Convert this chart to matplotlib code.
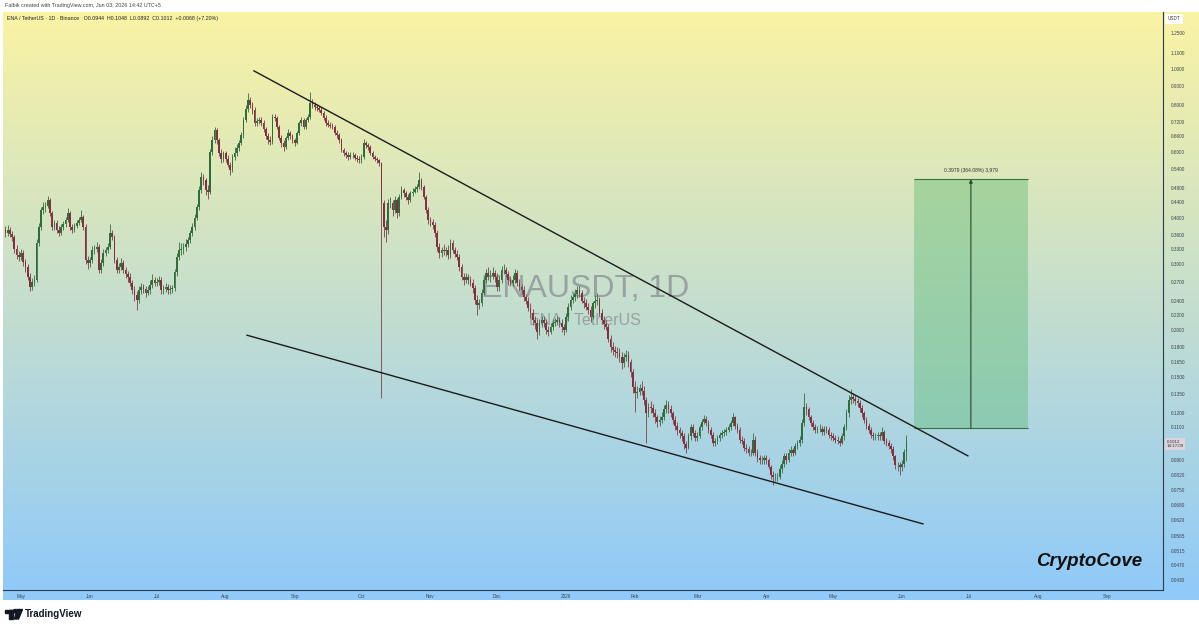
import numpy as np
import pandas as pd
import matplotlib
matplotlib.use('Agg')
import matplotlib.pyplot as plt
import matplotlib.dates as mdates
from matplotlib.patches import Rectangle, Circle, Polygon
from matplotlib.ticker import FixedLocator, FixedFormatter, NullLocator

plt.rcParams['font.family'] = ['Liberation Sans', 'DejaVu Sans']

# ENA / TetherUS, 1D, Binance - daily candles
end_date = '2026-06-03'
first_open = 0.370

closes = [
    0.365, 0.371, 0.362, 0.355, 0.330, 0.318, 0.315, 0.322, 0.305, 0.295,
    0.278, 0.261, 0.269, 0.273, 0.342, 0.378, 0.420, 0.427, 0.430, 0.446,
    0.412, 0.378, 0.387, 0.372, 0.365, 0.378, 0.385, 0.395, 0.412, 0.378,
    0.371, 0.380, 0.387, 0.395, 0.401, 0.378, 0.308, 0.303, 0.308, 0.328,
    0.330, 0.334, 0.290, 0.303, 0.322, 0.328, 0.334, 0.365, 0.355, 0.308,
    0.290, 0.296, 0.303, 0.290, 0.283, 0.278, 0.268, 0.256, 0.248, 0.241,
    0.256, 0.261, 0.258, 0.252, 0.256, 0.265, 0.273, 0.268, 0.270, 0.273,
    0.256, 0.258, 0.261, 0.256, 0.258, 0.259, 0.286, 0.315, 0.328, 0.330,
    0.334, 0.340, 0.349, 0.365, 0.378, 0.400, 0.427, 0.475, 0.514, 0.505,
    0.475, 0.470, 0.600, 0.645, 0.687, 0.646, 0.596, 0.575, 0.596, 0.575,
    0.555, 0.537, 0.582, 0.596, 0.615, 0.634, 0.665, 0.730, 0.780, 0.826,
    0.800, 0.777, 0.717, 0.725, 0.730, 0.717, 0.690, 0.660, 0.646, 0.638,
    0.744, 0.740, 0.700, 0.655, 0.634, 0.618, 0.655, 0.674, 0.660, 0.646,
    0.634, 0.674, 0.715, 0.730, 0.700, 0.730, 0.744, 0.811, 0.800, 0.791,
    0.785, 0.777, 0.763, 0.740, 0.717, 0.709, 0.705, 0.700, 0.674, 0.665,
    0.645, 0.607, 0.595, 0.589, 0.582, 0.589, 0.589, 0.578, 0.575, 0.571,
    0.582, 0.634, 0.625, 0.618, 0.596, 0.582, 0.575, 0.571, 0.560, 0.438,
    0.378, 0.370, 0.438, 0.438, 0.420, 0.446, 0.412, 0.455, 0.475, 0.466,
    0.455, 0.446, 0.466, 0.470, 0.478, 0.483, 0.505, 0.483, 0.455, 0.420,
    0.395, 0.390, 0.383, 0.365, 0.334, 0.322, 0.328, 0.325, 0.328, 0.318,
    0.342, 0.328, 0.320, 0.315, 0.295, 0.278, 0.273, 0.278, 0.273, 0.268,
    0.260, 0.241, 0.233, 0.236, 0.252, 0.273, 0.284, 0.278, 0.280, 0.284,
    0.278, 0.261, 0.273, 0.290, 0.290, 0.283, 0.273, 0.268, 0.273, 0.284,
    0.268, 0.261, 0.256, 0.245, 0.240, 0.230, 0.222, 0.213, 0.209, 0.198,
    0.209, 0.213, 0.209, 0.200, 0.198, 0.204, 0.209, 0.211, 0.213, 0.209,
    0.204, 0.200, 0.217, 0.231, 0.241, 0.245, 0.250, 0.256, 0.252, 0.240,
    0.236, 0.231, 0.227, 0.217, 0.236, 0.240, 0.241, 0.222, 0.213, 0.208,
    0.204, 0.190, 0.180, 0.177, 0.175, 0.174, 0.170, 0.163, 0.170, 0.172,
    0.165, 0.155, 0.141, 0.136, 0.137, 0.140, 0.138, 0.130, 0.120, 0.125,
    0.124, 0.120, 0.117, 0.114, 0.115, 0.117, 0.123, 0.126, 0.123, 0.120,
    0.115, 0.111, 0.108, 0.106, 0.104, 0.099, 0.097, 0.104, 0.110, 0.106,
    0.103, 0.104, 0.110, 0.114, 0.116, 0.113, 0.108, 0.105, 0.100, 0.101,
    0.103, 0.105, 0.106, 0.107, 0.108, 0.110, 0.113, 0.117, 0.111, 0.108,
    0.102, 0.101, 0.097, 0.096, 0.094, 0.094, 0.102, 0.094, 0.091, 0.090,
    0.090, 0.091, 0.090, 0.086, 0.082, 0.081, 0.081, 0.081, 0.085, 0.088,
    0.092, 0.090, 0.094, 0.0957, 0.094, 0.098, 0.100, 0.102, 0.113, 0.125,
    0.123, 0.117, 0.113, 0.110, 0.108, 0.109, 0.109, 0.107, 0.109, 0.108,
    0.105, 0.104, 0.103, 0.102, 0.101, 0.100, 0.104, 0.110, 0.120, 0.130,
    0.133, 0.131, 0.129, 0.128, 0.124, 0.120, 0.115, 0.111, 0.108, 0.105,
    0.104, 0.104, 0.105, 0.104, 0.107, 0.101, 0.100, 0.098, 0.096, 0.092,
    0.087, 0.087, 0.086, 0.088, 0.0944, 0.1012,
]

highs = [
    0.380, 0.382, 0.378, 0.368, 0.360, 0.338, 0.326, 0.330, 0.328, 0.310,
    0.300, 0.284, 0.276, 0.281, 0.350, 0.388, 0.428, 0.440, 0.442, 0.458,
    0.452, 0.418, 0.395, 0.394, 0.380, 0.384, 0.392, 0.402, 0.425, 0.418,
    0.386, 0.388, 0.394, 0.402, 0.420, 0.408, 0.384, 0.316, 0.314, 0.336,
    0.338, 0.345, 0.340, 0.310, 0.330, 0.335, 0.342, 0.385, 0.370, 0.360,
    0.314, 0.302, 0.312, 0.308, 0.296, 0.288, 0.284, 0.272, 0.262, 0.254,
    0.262, 0.268, 0.266, 0.262, 0.262, 0.272, 0.282, 0.278, 0.276, 0.280,
    0.277, 0.264, 0.268, 0.266, 0.264, 0.265, 0.292, 0.322, 0.345, 0.342,
    0.342, 0.350, 0.356, 0.372, 0.388, 0.410, 0.436, 0.485, 0.530, 0.525,
    0.512, 0.490, 0.610, 0.660, 0.700, 0.695, 0.655, 0.610, 0.605, 0.602,
    0.590, 0.565, 0.592, 0.620, 0.628, 0.645, 0.680, 0.742, 0.800, 0.860,
    0.840, 0.815, 0.790, 0.740, 0.745, 0.745, 0.728, 0.700, 0.672, 0.660,
    0.760, 0.758, 0.748, 0.708, 0.665, 0.645, 0.662, 0.690, 0.684, 0.668,
    0.655, 0.682, 0.725, 0.745, 0.738, 0.740, 0.760, 0.868, 0.830, 0.815,
    0.805, 0.798, 0.790, 0.772, 0.752, 0.728, 0.722, 0.716, 0.710, 0.685,
    0.675, 0.652, 0.615, 0.602, 0.598, 0.598, 0.600, 0.596, 0.588, 0.585,
    0.592, 0.650, 0.642, 0.632, 0.625, 0.602, 0.590, 0.582, 0.575, 0.565,
    0.445, 0.395, 0.448, 0.455, 0.445, 0.458, 0.452, 0.462, 0.485, 0.480,
    0.472, 0.462, 0.472, 0.480, 0.485, 0.492, 0.530, 0.512, 0.490, 0.460,
    0.428, 0.402, 0.398, 0.390, 0.372, 0.342, 0.335, 0.340, 0.334, 0.338,
    0.350, 0.348, 0.335, 0.328, 0.320, 0.300, 0.285, 0.284, 0.283, 0.280,
    0.274, 0.265, 0.248, 0.242, 0.258, 0.280, 0.292, 0.296, 0.290, 0.296,
    0.290, 0.284, 0.280, 0.298, 0.300, 0.296, 0.288, 0.280, 0.281, 0.292,
    0.290, 0.274, 0.266, 0.262, 0.250, 0.246, 0.236, 0.228, 0.218, 0.214,
    0.214, 0.219, 0.218, 0.214, 0.205, 0.209, 0.214, 0.216, 0.219, 0.217,
    0.214, 0.208, 0.222, 0.236, 0.248, 0.252, 0.258, 0.262, 0.262, 0.256,
    0.246, 0.242, 0.236, 0.232, 0.240, 0.248, 0.252, 0.246, 0.228, 0.218,
    0.213, 0.208, 0.194, 0.186, 0.182, 0.180, 0.179, 0.175, 0.174, 0.177,
    0.176, 0.168, 0.158, 0.146, 0.142, 0.144, 0.146, 0.142, 0.133, 0.128,
    0.129, 0.127, 0.123, 0.119, 0.118, 0.121, 0.126, 0.130, 0.129, 0.126,
    0.122, 0.118, 0.114, 0.110, 0.108, 0.106, 0.101, 0.106, 0.112, 0.112,
    0.108, 0.107, 0.112, 0.116, 0.119, 0.118, 0.115, 0.110, 0.107, 0.103,
    0.105, 0.107, 0.108, 0.109, 0.110, 0.112, 0.115, 0.120, 0.118, 0.113,
    0.110, 0.104, 0.103, 0.099, 0.098, 0.096, 0.106, 0.104, 0.096, 0.093,
    0.092, 0.093, 0.093, 0.091, 0.087, 0.084, 0.083, 0.083, 0.087, 0.090,
    0.094, 0.094, 0.096, 0.098, 0.097, 0.100, 0.102, 0.104, 0.116, 0.136,
    0.128, 0.125, 0.119, 0.115, 0.112, 0.111, 0.112, 0.111, 0.111, 0.111,
    0.110, 0.107, 0.106, 0.105, 0.104, 0.103, 0.106, 0.112, 0.123, 0.134,
    0.139, 0.136, 0.134, 0.132, 0.130, 0.126, 0.122, 0.117, 0.113, 0.110,
    0.107, 0.106, 0.107, 0.107, 0.110, 0.108, 0.103, 0.102, 0.100, 0.098,
    0.093, 0.089, 0.089, 0.090, 0.096, 0.1048,
]

lows = [
    0.355, 0.358, 0.355, 0.346, 0.322, 0.310, 0.306, 0.308, 0.298, 0.287,
    0.272, 0.254, 0.257, 0.263, 0.270, 0.336, 0.370, 0.410, 0.415, 0.425,
    0.405, 0.370, 0.372, 0.365, 0.358, 0.360, 0.372, 0.378, 0.390, 0.372,
    0.364, 0.366, 0.375, 0.382, 0.390, 0.372, 0.300, 0.292, 0.296, 0.302,
    0.320, 0.324, 0.284, 0.285, 0.298, 0.316, 0.322, 0.330, 0.348, 0.302,
    0.284, 0.284, 0.290, 0.284, 0.276, 0.270, 0.262, 0.250, 0.240, 0.226,
    0.236, 0.250, 0.252, 0.246, 0.248, 0.250, 0.260, 0.262, 0.262, 0.264,
    0.250, 0.250, 0.253, 0.250, 0.250, 0.252, 0.255, 0.280, 0.308, 0.318,
    0.320, 0.326, 0.334, 0.342, 0.358, 0.372, 0.394, 0.420, 0.466, 0.490,
    0.460, 0.448, 0.462, 0.590, 0.635, 0.630, 0.585, 0.560, 0.565, 0.565,
    0.545, 0.520, 0.530, 0.570, 0.585, 0.605, 0.625, 0.655, 0.720, 0.765,
    0.785, 0.760, 0.705, 0.705, 0.712, 0.705, 0.680, 0.650, 0.630, 0.625,
    0.630, 0.725, 0.690, 0.645, 0.620, 0.605, 0.610, 0.645, 0.650, 0.632,
    0.622, 0.628, 0.665, 0.705, 0.690, 0.692, 0.722, 0.735, 0.785, 0.775,
    0.770, 0.765, 0.752, 0.728, 0.705, 0.698, 0.695, 0.690, 0.664, 0.655,
    0.635, 0.598, 0.585, 0.578, 0.572, 0.575, 0.578, 0.570, 0.565, 0.560,
    0.562, 0.575, 0.615, 0.608, 0.588, 0.575, 0.566, 0.562, 0.550, 0.132,
    0.355, 0.345, 0.362, 0.425, 0.405, 0.412, 0.400, 0.405, 0.448, 0.455,
    0.445, 0.435, 0.440, 0.458, 0.465, 0.470, 0.478, 0.475, 0.448, 0.412,
    0.385, 0.380, 0.374, 0.356, 0.325, 0.312, 0.315, 0.318, 0.316, 0.310,
    0.312, 0.322, 0.314, 0.308, 0.288, 0.272, 0.265, 0.268, 0.266, 0.262,
    0.252, 0.235, 0.220, 0.228, 0.232, 0.248, 0.268, 0.272, 0.270, 0.275,
    0.270, 0.255, 0.255, 0.268, 0.282, 0.278, 0.265, 0.262, 0.262, 0.268,
    0.262, 0.255, 0.250, 0.240, 0.235, 0.225, 0.216, 0.207, 0.202, 0.190,
    0.194, 0.204, 0.204, 0.196, 0.193, 0.195, 0.200, 0.205, 0.207, 0.204,
    0.198, 0.194, 0.198, 0.212, 0.226, 0.236, 0.240, 0.244, 0.246, 0.236,
    0.230, 0.226, 0.221, 0.210, 0.214, 0.230, 0.234, 0.218, 0.208, 0.202,
    0.200, 0.186, 0.175, 0.172, 0.170, 0.169, 0.165, 0.158, 0.160, 0.166,
    0.160, 0.150, 0.136, 0.121, 0.132, 0.134, 0.134, 0.126, 0.100, 0.117,
    0.120, 0.117, 0.113, 0.110, 0.111, 0.113, 0.115, 0.120, 0.120, 0.117,
    0.112, 0.108, 0.105, 0.103, 0.101, 0.096, 0.094, 0.096, 0.102, 0.104,
    0.101, 0.101, 0.103, 0.108, 0.112, 0.111, 0.106, 0.103, 0.098, 0.098,
    0.099, 0.101, 0.103, 0.104, 0.105, 0.107, 0.108, 0.111, 0.109, 0.106,
    0.100, 0.099, 0.095, 0.094, 0.092, 0.092, 0.093, 0.092, 0.089, 0.088,
    0.088, 0.088, 0.088, 0.085, 0.080, 0.077, 0.079, 0.079, 0.080, 0.083,
    0.086, 0.088, 0.089, 0.092, 0.092, 0.093, 0.096, 0.098, 0.100, 0.111,
    0.119, 0.115, 0.111, 0.108, 0.106, 0.106, 0.107, 0.105, 0.105, 0.106,
    0.103, 0.102, 0.101, 0.100, 0.099, 0.098, 0.099, 0.102, 0.108, 0.117,
    0.127, 0.128, 0.126, 0.125, 0.121, 0.117, 0.113, 0.109, 0.106, 0.103,
    0.102, 0.102, 0.102, 0.102, 0.102, 0.099, 0.098, 0.096, 0.094, 0.090,
    0.085, 0.084, 0.082, 0.084, 0.086, 0.0892,
]

price_ticks = [1.25, 1.10, 1.00, 0.90, 0.80, 0.72, 0.66, 0.60, 0.54, 0.48,
               0.44, 0.40, 0.36, 0.33, 0.30, 0.27, 0.24, 0.22, 0.20, 0.18,
               0.165, 0.15, 0.135, 0.12, 0.11, 0.09, 0.082, 0.075, 0.068,
               0.062, 0.0565, 0.0515, 0.047, 0.043]

month_ticks = ['2025-05-01', '2025-06-01', '2025-07-01', '2025-08-01',
               '2025-09-01', '2025-10-01', '2025-11-01', '2025-12-01',
               '2026-01-01', '2026-02-01', '2026-03-01', '2026-04-01',
               '2026-05-01', '2026-06-01', '2026-07-01', '2026-08-01',
               '2026-09-01']
month_labels = ['May', 'Jun', 'Jul', 'Aug', 'Sep', 'Oct', 'Nov', 'Dec', '2026',
                'Feb', 'Mar', 'Apr', 'May', 'Jun', 'Jul', 'Aug', 'Sep']

# falling wedge trend lines (drawn by the author)
upper_line_dates = ['2025-08-13 17:00', '2026-06-30 14:00']
upper_line_prices = [0.988, 0.0923]
lower_line_dates = ['2025-08-10 14:00', '2026-06-10 10:00']
lower_line_prices = [0.194, 0.0607]

# price range tool
range_dates = ['2026-06-06 07:00', '2026-07-27 14:00']
range_prices = [0.1093, 0.5072]
range_text = '0.3979 (364.08%) 3,979'

# -----------------------------------------------------------------------

W, H = 1199, 629

def px_box(x0, y0, x1, y1):
    return [x0 / W, 1 - y1 / H, (x1 - x0) / W, (y1 - y0) / H]

fig = plt.figure(figsize=(W / 100, H / 100), dpi=100)

# gradient background (yellow -> light blue)
bg = fig.add_axes(px_box(3, 12, 1199, 600))
top_col = np.array([250, 243, 163]) / 255
bot_col = np.array([144, 202, 249]) / 255
rows = np.arange(12, 600)
t = np.clip((rows - 12) / (590 - 12), 0, 1)[:, None]
grad = top_col * (1 - t) + bot_col * t
bg.imshow(grad[:, None, :], aspect='auto', extent=(0, 1, 0, 1))
bg.axis('off')

ax = fig.add_axes(px_box(3, 12, 1163, 590))
ax.patch.set_alpha(0)

dates = pd.date_range(end=end_date, periods=len(closes), freq='D')
x = mdates.date2num(dates.values)
c = np.array(closes)
o = np.array([first_open] + closes[:-1])
hi = np.maximum(np.array(highs), np.maximum(o, c))
lo = np.minimum(np.array(lows), np.minimum(o, c))
up = c >= o
body_cols = np.where(up, '#2f6e3a', '#85303e')
wick_cols = np.where(up, '#4d7a55', '#86545c')

ax.vlines(x, lo, hi, colors=wick_cols, linewidth=0.7, zorder=3)
ax.bar(x, np.abs(c - o), bottom=np.minimum(o, c), width=0.78,
       color=body_cols, linewidth=0, zorder=4)

ax.plot(mdates.date2num(pd.to_datetime(upper_line_dates).values), upper_line_prices,
        color='#1b1b1b', lw=1.0, zorder=5)
ax.plot(mdates.date2num(pd.to_datetime(lower_line_dates).values), lower_line_prices,
        color='#1b1b1b', lw=1.0, zorder=5)

# price range box
rx = mdates.date2num(pd.to_datetime(range_dates).values)
ax.fill_between(rx, range_prices[0], range_prices[1], color='#5dbb74',
                alpha=0.42, lw=0, zorder=2)
ax.hlines(range_prices, rx[0], rx[1], color='#3d6e40', lw=0.8, zorder=3)
rmid = rx.mean()
ax.annotate('', xy=(rmid, range_prices[1]), xytext=(rmid, range_prices[0]),
            arrowprops=dict(arrowstyle='-|>', color='#2a472b', lw=0.8,
                            mutation_scale=5, shrinkA=0, shrinkB=0), zorder=4)
ax.annotate(range_text, xy=(rmid, range_prices[1]), xytext=(0, 6),
            textcoords='offset points', ha='center', va='center',
            fontsize=3.6, color='#333333')

# axes / scales
ax.set_yscale('log')
ax.set_ylim(0.0404, 1.420)
base = mdates.date2num(np.datetime64('2025-05-01'))
ax.set_xlim(base - 8.1, base + 513.3)

ax.yaxis.tick_right()
ax.yaxis.set_major_locator(FixedLocator(price_ticks))
ax.yaxis.set_major_formatter(FixedFormatter([f'{p:.4f}' for p in price_ticks]))
ax.yaxis.set_minor_locator(NullLocator())
ax.xaxis.set_major_locator(FixedLocator(mdates.date2num(pd.to_datetime(month_ticks).values)))
ax.xaxis.set_major_formatter(FixedFormatter(month_labels))
ax.xaxis.set_minor_locator(NullLocator())
ax.tick_params(axis='y', length=0, pad=5.5, labelsize=3.4, labelcolor='#3c4250')
ax.tick_params(axis='x', length=0, pad=2.6, labelsize=3.4, labelcolor='#3c4250')
for s in ['top', 'left']:
    ax.spines[s].set_visible(False)
for s in ['right', 'bottom']:
    ax.spines[s].set_color('#2e3b4e')
    ax.spines[s].set_linewidth(0.8)

# watermark
ax.text(0.502, 0.521, 'ENAUSDT, 1D', transform=ax.transAxes, ha='center',
        va='center', fontsize=23, color='#787b86', alpha=0.6, zorder=1)
ax.text(0.502, 0.467, 'ENA / TetherUS', transform=ax.transAxes, ha='center',
        va='center', fontsize=11.5, color='#787b86', alpha=0.6, zorder=1)

# legend line built from the last candle
chg = c[-1] - o[-1]
legend = (f'ENA / TetherUS · 1D · Binance   O{o[-1]:.4f}  H{hi[-1]:.4f}  '
          f'L{lo[-1]:.4f}  C{c[-1]:.4f}  {chg:+.4f} ({chg / o[-1] * 100:+.2f}%)')
ax.text(0.0035, 0.988, legend, transform=ax.transAxes, ha='left', va='center',
        fontsize=3.8, color='#222222')

# last price tag on the price scale
ax.annotate(f'{c[-1]:.4f}\n14:17:09', xy=(1.0, c[-1]), xycoords=('axes fraction', 'data'),
            xytext=(2.5, -2.2), textcoords='offset points', ha='left', va='center',
            fontsize=3.2, color='#333333', linespacing=1.1, annotation_clip=False,
            bbox=dict(boxstyle='square,pad=0.35', fc='#ddd3dc', ec='none'))
ax.text(1.004, 0.988, 'USDT', transform=ax.transAxes, ha='left', va='center',
        fontsize=3.3, color='#333333',
        bbox=dict(boxstyle='square,pad=0.5', fc='white', ec='none'))

# page decorations in pixel space
ov = fig.add_axes([0, 0, 1, 1])
ov.set_xlim(0, W)
ov.set_ylim(H, 0)
ov.axis('off')
ov.patch.set_alpha(0)
ov.text(5, 6, 'Falbik created with TradingView.com, Jun 03, 2026 14:42 UTC+5',
        ha='left', va='center', fontsize=3.9, color='#444444')
ov.text(1089, 562, 'CryptoCove', ha='center', va='center', fontsize=13.5,
        fontweight='bold', fontstyle='italic', color='#111111')
ov.add_patch(Rectangle((5, 609.5), 7.5, 3, color='#131722'))
ov.add_patch(Rectangle((9, 609.5), 3.5, 9.5, color='#131722'))
ov.add_patch(Circle((15, 611.2), 1.7, color='#131722'))
ov.add_patch(Polygon([(17, 609.5), (22.5, 609.5), (18.5, 619), (14.5, 619)],
                     closed=True, color='#131722'))
ov.text(25, 614.3, 'TradingView', ha='left', va='center', fontsize=7,
        fontweight='bold', color='#131722')

fig.savefig('out.png', dpi=100)
